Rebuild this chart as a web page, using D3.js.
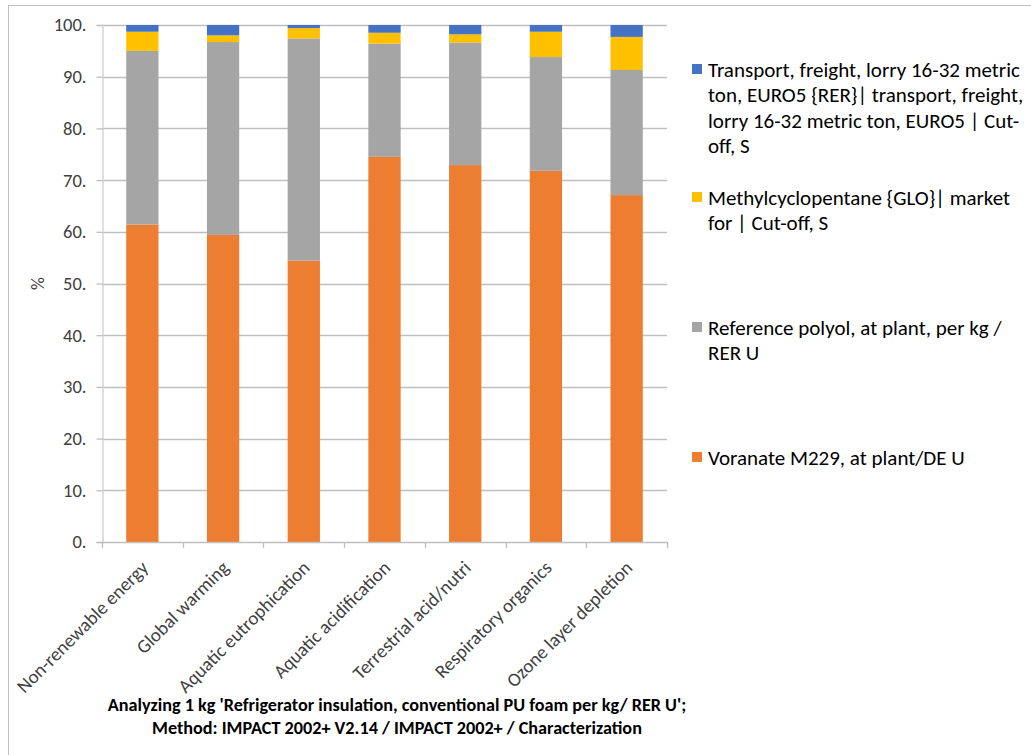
<!DOCTYPE html>
<html>
<head>
<meta charset="utf-8">
<script src="https://cdn.jsdelivr.net/npm/d3@7"></script>
<style>
  html, body { margin: 0; padding: 0; background: #fff; }
  svg { display: block; font-family: Carlito, Lato, "Liberation Sans", sans-serif; }
</style>
</head>
<body>
<svg id="chart" width="1031" height="755"></svg>
<script>
// Impact categories on the x axis
const categories = [
  "Non-renewable energy",
  "Global warming",
  "Aquatic eutrophication",
  "Aquatic acidification",
  "Terrestrial acid/nutri",
  "Respiratory organics",
  "Ozone layer depletion"
];

// Contribution (%) of each input, stacked bottom to top
const voranate = [61.4, 59.4, 54.4, 74.5, 72.9, 71.8, 67.1];
const polyol = [33.6, 37.3, 43.0, 21.9, 23.7, 22.0, 24.2];
const methylcyclopentane = [3.7, 1.3, 2.0, 2.1, 1.6, 4.9, 6.4];
const transport = [1.3, 2.0, 0.6, 1.5, 1.8, 1.3, 2.3];

const seriesNames = [
  "Voranate M229, at plant/DE U",
  "Reference polyol, at plant, per kg /\nRER U",
  "Methylcyclopentane {GLO}| market\nfor | Cut-off, S",
  "Transport, freight, lorry 16-32 metric\nton, EURO5 {RER}| transport, freight,\nlorry 16-32 metric ton, EURO5 | Cut-\noff, S"
];
const seriesKeys = ["voranate", "polyol", "methylcyclopentane", "transport"];
const seriesColors = ["#ED7D31", "#A5A5A5", "#FFC000", "#4472C4"];

const yTicks = [0, 10, 20, 30, 40, 50, 60, 70, 80, 90, 100];
const yTickLabels = ["0.", "10.", "20.", "30.", "40.", "50.", "60.", "70.", "80.", "90.", "100."];
const yAxisTitle = "%";
const chartTitle = [
  "Analyzing 1 kg 'Refrigerator insulation, conventional PU foam per kg/ RER U';",
  "Method: IMPACT 2002+ V2.14 / IMPACT 2002+ / Characterization"
];

const rows = categories.map((c, i) => ({
  category: c,
  voranate: voranate[i],
  polyol: polyol[i],
  methylcyclopentane: methylcyclopentane[i],
  transport: transport[i]
}));

const svg = d3.select("#chart");

// outer chart frame
svg.append("rect")
  .attr("x", 8.5).attr("y", 5.5)
  .attr("width", 1100).attr("height", 800)
  .attr("fill", "none").attr("stroke", "#BFBFBF").attr("stroke-width", 1);

const plot = { left: 102, right: 667, top: 25, bottom: 542 };

const x = d3.scaleBand()
  .domain(categories)
  .range([plot.left, plot.right])
  .paddingInner(0.6)
  .paddingOuter(0.3);

const y = d3.scaleLinear()
  .domain([0, 100])
  .range([plot.bottom, plot.top]);

// horizontal gridlines
svg.append("g")
  .selectAll("line")
  .data(yTicks.filter(t => t > 0))
  .join("line")
  .attr("x1", plot.left).attr("x2", plot.right)
  .attr("y1", d => Math.round(y(d)) + 0.5).attr("y2", d => Math.round(y(d)) + 0.5)
  .attr("stroke", "#BFBFBF").attr("stroke-width", 1.3);

// stacked bars
const stack = d3.stack().keys(seriesKeys);
const layers = stack(rows);

svg.append("g")
  .selectAll("g")
  .data(layers)
  .join("g")
  .attr("fill", (d, i) => seriesColors[i])
  .selectAll("rect")
  .data(d => d)
  .join("rect")
  .attr("x", d => x(d.data.category))
  .attr("width", x.bandwidth())
  .attr("y", d => y(d[1]))
  .attr("height", d => y(d[0]) - y(d[1]));

// y axis
const yAxis = d3.axisLeft(y)
  .tickValues(yTicks)
  .tickFormat((d, i) => yTickLabels[i])
  .tickSize(6)
  .tickPadding(10);

const gy = svg.append("g")
  .attr("transform", `translate(${plot.left + 0.5},0)`)
  .call(yAxis);
gy.select(".domain").attr("stroke", "#D0D0D0").attr("stroke-width", 1.3);
gy.selectAll(".tick line").attr("stroke", "#BFBFBF").attr("stroke-width", 1.3);
gy.selectAll(".tick text")
  .attr("fill", "#404040")
  .style("font-size", "18.5px")
  .style("font-family", "Carlito, Lato, sans-serif");

// x axis with ticks between categories
const step = x.step();
const boundaries = d3.range(categories.length + 1).map(i => plot.left + i * step);

svg.append("line")
  .attr("x1", plot.left).attr("x2", plot.right)
  .attr("y1", plot.bottom + 0.5).attr("y2", plot.bottom + 0.5)
  .attr("stroke", "#BFBFBF").attr("stroke-width", 1.3);

svg.append("g")
  .selectAll("line")
  .data(boundaries)
  .join("line")
  .attr("x1", d => Math.round(d) + 0.5).attr("x2", d => Math.round(d) + 0.5)
  .attr("y1", plot.bottom).attr("y2", plot.bottom + 6)
  .attr("stroke", "#BFBFBF").attr("stroke-width", 1.3);

// rotated category labels
svg.append("g")
  .selectAll("text")
  .data(categories)
  .join("text")
  .attr("transform", d => `translate(${x(d) + x.bandwidth() / 2 + 7},${plot.bottom + 27}) rotate(-45)`)
  .attr("text-anchor", "end")
  .attr("fill", "#404040")
  .style("font-size", "19px")
  .text(d => d);

// y axis title
svg.append("text")
  .attr("transform", `translate(44,${(plot.top + plot.bottom) / 2}) rotate(-90)`)
  .attr("text-anchor", "middle")
  .attr("fill", "#404040")
  .style("font-size", "18px")
  .text(yAxisTitle);

// chart title below the axis
svg.append("g")
  .selectAll("text")
  .data(chartTitle)
  .join("text")
  .attr("x", 397)
  .attr("y", (d, i) => 711 + i * 23)
  .attr("text-anchor", "middle")
  .attr("fill", "#000")
  .style("font-size", "18.2px")
  .style("font-weight", "bold")
  .text(d => d);

// legend, listed top to bottom in reverse stack order
const legendTop = { transport: 77, methylcyclopentane: 205, polyol: 335, voranate: 465 };
const legend = svg.append("g");
seriesKeys.forEach((k, i) => {
  const base = legendTop[k];
  legend.append("rect")
    .attr("x", 692).attr("y", base - 13)
    .attr("width", 10).attr("height", 10)
    .attr("fill", seriesColors[i]);
  legend.append("text")
    .attr("x", 708)
    .attr("fill", "#000")
    .style("font-size", "21px")
    .selectAll("tspan")
    .data(seriesNames[i].split("\n"))
    .join("tspan")
    .attr("x", 708)
    .attr("y", (d, j) => base + j * 25.3)
    .text(d => d);
});
</script>
</body>
</html>
